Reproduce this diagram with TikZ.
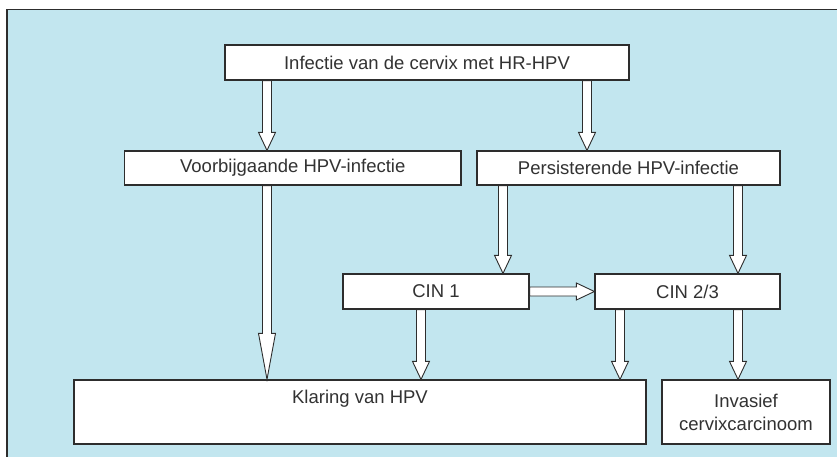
\documentclass[tikz,border=0pt]{standalone}
\usepackage{fontspec}
\setmainfont{Liberation Sans}
\usetikzlibrary{calc}
\definecolor{panel}{RGB}{194, 230, 239}
\definecolor{boxline}{RGB}{45, 45, 45}
\definecolor{textgray}{RGB}{50, 50, 50}
\newcommand{\boxfont}{\fontsize{18.5}{23}\selectfont}
\tikzset{
    shaftw/.store in=\shaftw, shaftw=4.5pt,
    headw/.store in=\headw, headw=8.5pt,
    headlen/.store in=\headl, headlen=18pt
}
\begin{document}
\begin{tikzpicture}[
                x=1pt, y=-1pt,
                box/.style={rectangle, draw=boxline, line width=1.2pt, fill=white, text=textgray, inner sep=0pt, align=center, font=\boxfont},
                blockarrow/.style={draw=boxline, line width=0.9pt, fill=white, line join=miter,
                    to path={($(\tikztostart)!\shaftw!90:(\tikztotarget)$)
                        -- ($(\tikztotarget)!\headl!(\tikztostart)!\shaftw!90:(\tikztotarget)$)
                        -- ($(\tikztotarget)!\headl!(\tikztostart)!\headw!90:(\tikztotarget)$)
                        -- (\tikztotarget)
                        -- ($(\tikztotarget)!\headl!(\tikztostart)!\headw!-90:(\tikztotarget)$)
                        -- ($(\tikztotarget)!\headl!(\tikztostart)!\shaftw!-90:(\tikztotarget)$)
                        -- ($(\tikztostart)!\shaftw!-90:(\tikztotarget)$) -- cycle}}
            ]%
            \useasboundingbox (0,0) rectangle (837,457);
            % Achtergrond en kader
            \fill[panel] (7,9.5) rectangle (837,457);
            \draw[boxline, line width=1.6pt] (7,457) -- (7,9.5) -- (837,9.5);
            %
            % Kolommen voor de pijlen
            \coordinate (colA) at (267,0);
            \coordinate (colB) at (421,0);
            \coordinate (colC) at (503,0);
            \coordinate (colD) at (587,0);
            \coordinate (colE) at (620,0);
            \coordinate (colF) at (738,0);
            %
            % Blokken
            \node[box, minimum width=404pt, minimum height=35pt] (infectie) at (427,62.5) {Infectie van de cervix met HR-HPV};
            \node[box, minimum width=336.5pt, minimum height=34pt] (voorbij) at (292.75,168) {Voorbijgaande HPV-infectie};
            \node[box, minimum width=303pt, minimum height=34pt] (persist) at (628.5,168) {Persisterende HPV-infectie};
            \node[box, minimum width=186pt, minimum height=35pt] (cin1) at (436,291.5) {CIN 1};
            \node[box, minimum width=185pt, minimum height=35pt] (cin23) at (687.5,291.5) {CIN 2/3};
            \node[box, minimum width=572pt, minimum height=64pt] (klaring) at (360,412) {Klaring van HPV\\ \strut};
            \node[box, minimum width=168pt, minimum height=64pt] (invasief) at (746,412) {Invasief\\cervixcarcinoom};
            %
            % Pijlen
            \draw[blockarrow] (infectie.south -| colA) to (voorbij.north -| colA);
            \draw[blockarrow] (infectie.south -| colD) to (persist.north -| colD);
            \draw[blockarrow, headlen=46pt] (voorbij.south -| colA) to (klaring.north -| colA);
            \draw[blockarrow] (persist.south -| colC) to (cin1.north -| colC);
            \draw[blockarrow] (persist.south -| colF) to (cin23.north -| colF);
            \draw[blockarrow] (cin1.east) to (cin23.west);
            \draw[blockarrow] (cin1.south -| colB) to (klaring.north -| colB);
            \draw[blockarrow] (cin23.south -| colE) to (klaring.north -| colE);
            \draw[blockarrow] (cin23.south -| colF) to (invasief.north -| colF);
        \end{tikzpicture}
\end{document}
